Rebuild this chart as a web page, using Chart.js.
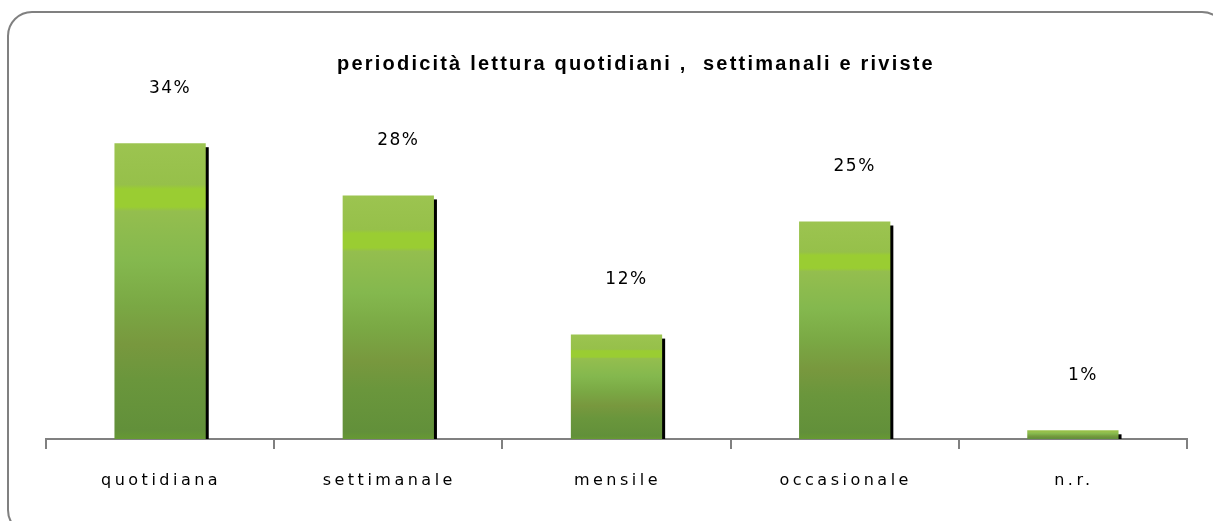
<!DOCTYPE html>
<html>
<head>
<meta charset="utf-8">
<script src="https://cdn.jsdelivr.net/npm/chart.js@4"></script>
<style>
html,body{margin:0;padding:0;background:#fff;}
#wrap{position:relative;width:1213px;height:521px;}
canvas{display:block;}
</style>
</head>
<body>
<div id="wrap"><canvas id="c" width="1213" height="521"></canvas></div>
<script>
const titleText = "periodicità lettura quotidiani ,  settimanali e riviste";
const categories = ["quotidiana", "settimanale", "mensile", "occasionale", "n.r."];
const values = [34, 28, 12, 25, 1];
const valueLabels = ["34%", "28%", "12%", "25%", "1%"];

function barGradient(context) {
  const chart = context.chart;
  const area = chart.chartArea;
  if (!area || context.parsed === undefined) return '#8ab840';
  const yScale = chart.scales.y;
  const top = yScale.getPixelForValue(context.parsed.y);
  const bottom = yScale.getPixelForValue(0);
  const g = chart.ctx.createLinearGradient(0, top, 0, bottom);
  g.addColorStop(0.00, '#9cc450');
  g.addColorStop(0.14, '#96c04a');
  g.addColorStop(0.155, '#9acd32');
  g.addColorStop(0.215, '#9acd32');
  g.addColorStop(0.23, '#94be4e');
  g.addColorStop(0.40, '#84b84e');
  g.addColorStop(0.55, '#7aa844');
  g.addColorStop(0.68, '#78983e');
  g.addColorStop(0.80, '#6a963c');
  g.addColorStop(0.97, '#62903a');
  g.addColorStop(1.00, '#669933');
  return g;
}

const decor = {
  id: 'decor',
  beforeDraw(chart) {
    const c = chart.ctx;
    c.save();
    c.fillStyle = '#fff';
    c.fillRect(0, 0, chart.width, chart.height);
    c.strokeStyle = '#808080';
    c.lineWidth = 2;
    c.beginPath();
    c.roundRect(8, 12, 1218, 522, 24);
    c.stroke();
    // title
    c.fillStyle = '#000';
    c.font = 'bold 20px "Liberation Sans", Arial, sans-serif';
    c.letterSpacing = '2.2px';
    c.textAlign = 'center';
    c.textBaseline = 'middle';
    c.fillText(titleText, 636, 64);
    c.restore();
  },
  beforeDatasetsDraw(chart) {
    const c = chart.ctx;
    const meta = chart.getDatasetMeta(0);
    c.save();
    c.fillStyle = '#000';
    meta.data.forEach(bar => {
      const p = bar.getProps(['x', 'y', 'base', 'width'], true);
      c.fillRect(p.x - p.width / 2 + 3, p.y + 4, p.width, p.base - p.y - 4);
    });
    c.restore();
  },
  afterDraw(chart) {
    const c = chart.ctx;
    const meta = chart.getDatasetMeta(0);
    const xScale = chart.scales.x;
    c.save();
    c.fillStyle = '#000';
    c.textAlign = 'center';
    c.textBaseline = 'middle';
    c.font = '17px "DejaVu Sans", sans-serif';
    c.letterSpacing = '1.5px';
    meta.data.forEach((bar, i) => {
      const p = bar.getProps(['x', 'y'], true);
      c.fillText(valueLabels[i], p.x + 10, p.y - 55);
    });
    c.font = '16px "DejaVu Sans", sans-serif';
    c.letterSpacing = '3.5px';
    categories.forEach((cat, i) => {
      c.fillText(cat, xScale.getPixelForValue(i) + 1, 481);
    });
    c.restore();
  }
};

new Chart(document.getElementById('c'), {
  type: 'bar',
  data: {
    labels: categories,
    datasets: [{
      data: values,
      backgroundColor: barGradient,
      borderWidth: 0,
      barPercentage: 0.4,
      categoryPercentage: 1.0
    }]
  },
  options: {
    responsive: false,
    animation: false,
    layout: { padding: { left: 46, right: 26, top: 91, bottom: 72 } },
    plugins: { legend: { display: false }, title: { display: false }, tooltip: { enabled: false } },
    scales: {
      x: {
        offset: true,
        grid: { display: true, offset: true, drawOnChartArea: false, drawTicks: true, tickLength: 10, color: '#808080', lineWidth: 2 },
        border: { display: true, color: '#808080', width: 2 },
        ticks: { display: false }
      },
      y: {
        display: false,
        min: 0,
        max: 40
      }
    }
  },
  plugins: [decor]
});
</script>
</body>
</html>
